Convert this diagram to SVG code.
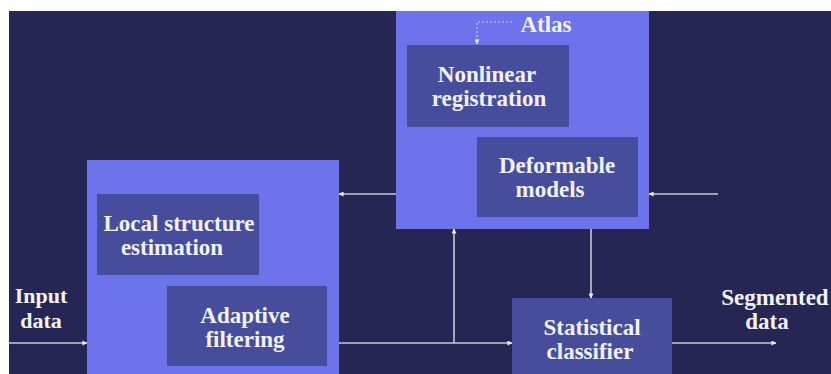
<svg xmlns="http://www.w3.org/2000/svg" width="831" height="374" viewBox="0 0 831 374">
<defs>
<style>
.big{fill:#6d73ea}
.inner{fill:#464d9d}
.t{font-family:"Liberation Serif","Times New Roman",serif;font-weight:bold;font-size:23px;fill:#f2f2f6;text-anchor:middle}
.s{font-size:22px}
.c{stroke:#c9c9d6;stroke-width:1.6;fill:none}
.d{stroke:#c9c9d6;stroke-width:1.2;fill:none;stroke-dasharray:2 2}
</style>
<marker id="ah" viewBox="0 0 6 6" refX="5.5" refY="3" markerWidth="5" markerHeight="5" orient="auto" markerUnits="userSpaceOnUse">
<path d="M0,0 L6,3 L0,6 Z" fill="#ececf4"/>
</marker>
</defs>
<rect x="0" y="0" width="831" height="374" fill="#ffffff"/>
<rect x="9" y="11" width="822" height="363" fill="#262654"/>

<g id="atlas-group">
<rect class="big" x="396" y="11" width="253" height="218"/>
<text class="t" x="546" y="32">Atlas</text>
</g>
<g id="nonlinear-registration">
<rect class="inner" x="407" y="45" width="162" height="82"/>
<text class="t" x="487" y="82">Nonlinear</text>
<text class="t" x="489" y="106">registration</text>
</g>
<g id="deformable-models">
<rect class="inner" x="477" y="137" width="161" height="80"/>
<text class="t" x="557" y="173">Deformable</text>
<text class="t" x="550" y="197">models</text>
</g>
<g id="filter-group">
<rect class="big" x="87" y="160" width="252" height="214"/>
</g>
<g id="local-structure">
<rect class="inner" x="97" y="194" width="162" height="81"/>
<text class="t" x="179" y="231">Local structure</text>
<text class="t" x="172" y="255">estimation</text>
</g>
<g id="adaptive-filtering">
<rect class="inner" x="167" y="286" width="160" height="80"/>
<text class="t" x="245" y="323">Adaptive</text>
<text class="t" x="245" y="347">filtering</text>
</g>
<g id="statistical-classifier">
<rect class="inner" x="512" y="298" width="160" height="76"/>
<text class="t" x="592" y="335">Statistical</text>
<text class="t" x="590" y="359">classifier</text>
</g>
<g id="input-data">
<text class="t s" x="41" y="303">Input</text>
<text class="t s" x="41" y="328">data</text>
</g>
<g id="segmented-data">
<text class="t" x="775" y="305">Segmented</text>
<text class="t" x="767" y="329">data</text>
</g>

<g id="connectors">
<path class="d" d="M512,22 L477,22 L477,44" marker-end="url(#ah)"/>
<line class="c" x1="9" y1="343" x2="87" y2="343" marker-end="url(#ah)"/>
<line class="c" x1="339" y1="343" x2="512" y2="343" marker-end="url(#ah)"/>
<line class="c" x1="454" y1="343" x2="454" y2="229" marker-end="url(#ah)"/>
<line class="c" x1="396" y1="194" x2="339" y2="194" marker-end="url(#ah)"/>
<line class="c" x1="718" y1="194" x2="649" y2="194" marker-end="url(#ah)"/>
<line class="c" x1="591" y1="229" x2="591" y2="298" marker-end="url(#ah)"/>
<line class="c" x1="672" y1="343" x2="776" y2="343" marker-end="url(#ah)"/>
</g>
</svg>
